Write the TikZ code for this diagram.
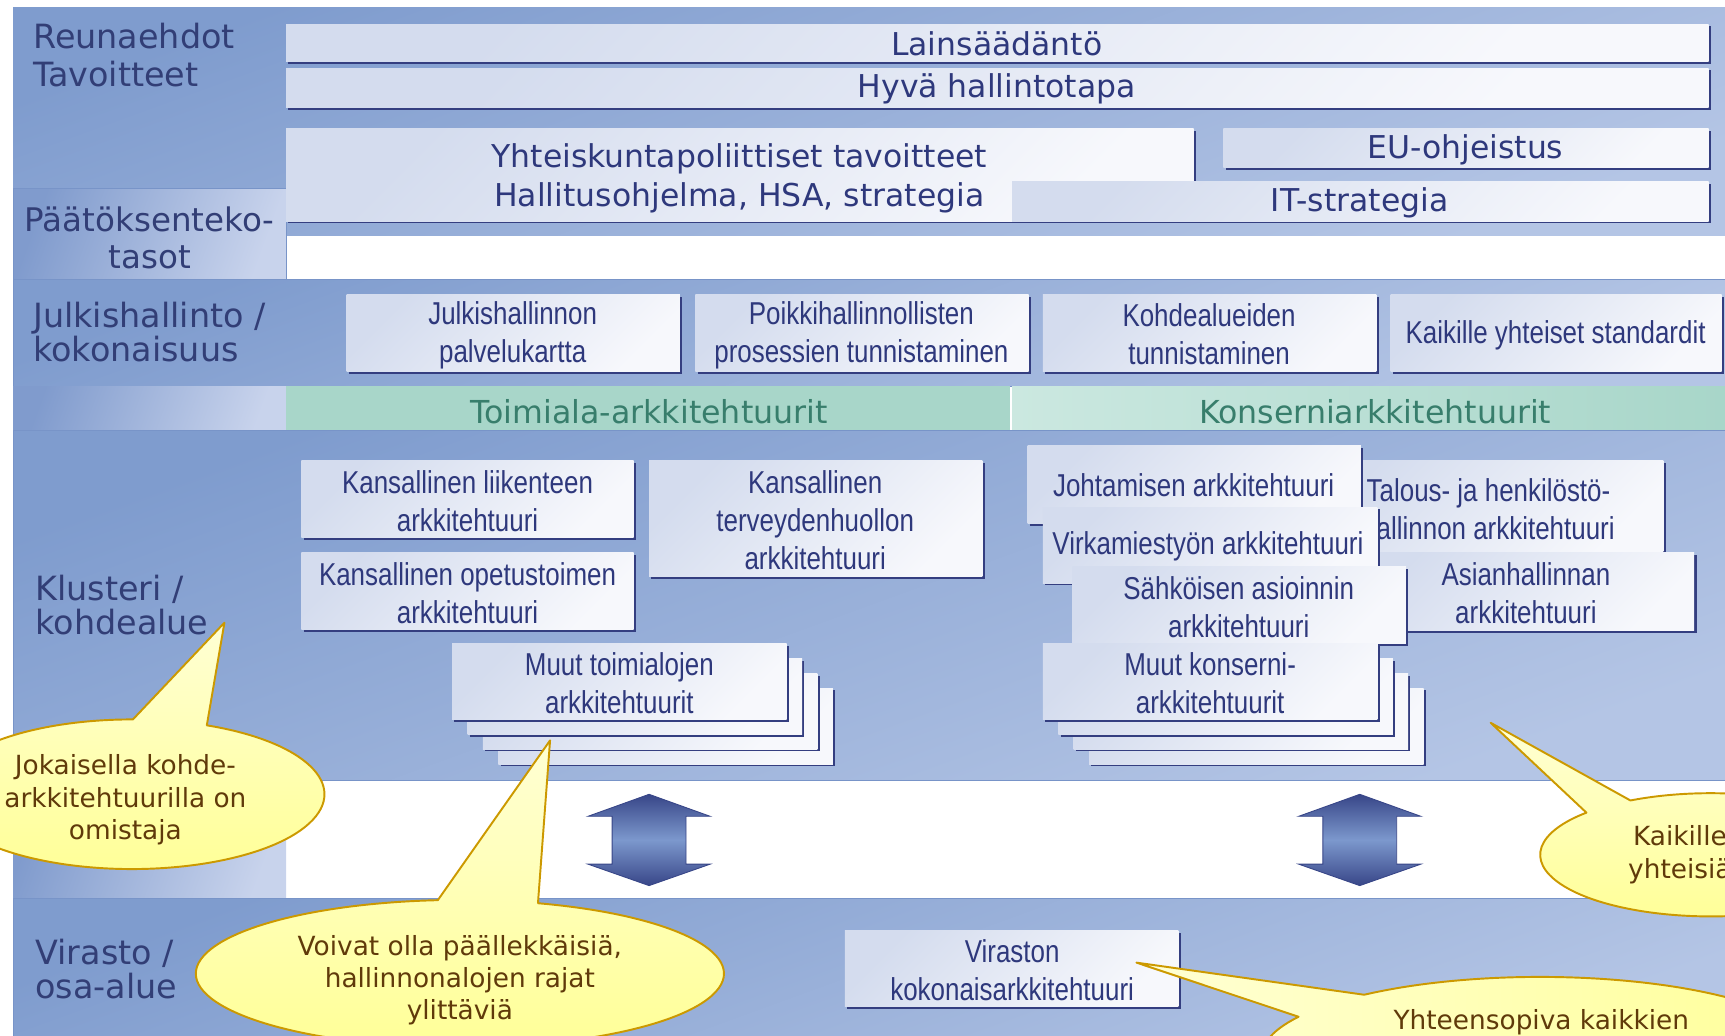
\documentclass[tikz,border=0pt]{standalone}
\usepackage{fontspec}
\setmainfont{DejaVu Sans}
\newfontfamily\narrowfont[FakeStretch=0.82]{Liberation Sans}
\usetikzlibrary{shadows}

\definecolor{banddark}{RGB}{127,156,206}
\definecolor{bandlight}{RGB}{180,197,229}
\definecolor{bandedge}{RGB}{120,148,200}
\definecolor{celldark}{RGB}{128,155,205}
\definecolor{celllight}{RGB}{200,211,236}
\definecolor{boxdark}{RGB}{212,220,238}
\definecolor{boxlight}{RGB}{247,248,252}
\definecolor{boxshadow}{RGB}{52,62,128}
\definecolor{navytext}{RGB}{46,56,124}
\definecolor{labelblue}{RGB}{50,62,118}
\definecolor{greendark}{RGB}{168,214,201}
\definecolor{greenlight}{RGB}{203,232,224}
\definecolor{greentext}{RGB}{56,126,108}
\definecolor{arrowdark}{RGB}{56,70,136}
\definecolor{arrowmid}{RGB}{124,152,205}
\definecolor{callfill}{RGB}{255,255,150}
\definecolor{callpale}{RGB}{255,255,212}
\definecolor{callline}{RGB}{204,153,0}
\definecolor{callbrown}{RGB}{96,58,10}

\tikzset{
  band/.style={top color=banddark, bottom color=bandlight, shading angle=20},
  cell/.style={top color=celldark, bottom color=celllight, shading angle=70},
  archbox/.style={top color=boxdark, bottom color=boxlight, shading angle=45,
    drop shadow={shadow xshift=1.3pt, shadow yshift=-1.3pt, fill=boxshadow, opacity=1}},
  toptxt/.style={font=\fontsize{17.9}{21.8}\selectfont, text=navytext, align=center, inner sep=0pt},
  boxtxt/.style={font=\narrowfont\fontsize{18}{21.6}\selectfont, text=navytext, align=center, inner sep=0pt},
  lbl/.style={font=\fontsize{19}{19.3}\selectfont, text=labelblue, align=left, anchor=west, inner sep=0pt},
  bartxt/.style={font=\fontsize{18}{20}\selectfont, text=greentext, inner sep=0pt},
  blockarrow/.style={top color=arrowdark, bottom color=arrowdark, middle color=arrowmid,
    draw=arrowdark, line width=0.5pt},
  callout/.style={top color=callpale, bottom color=callfill, draw=callline, line width=1.1pt, line join=round},
  calltxt/.style={font=\fontsize{15}{18.4}\selectfont, text=callbrown, align=center, inner sep=0pt}
}

\begin{document}
\begin{tikzpicture}[x=0.22mm, y=-0.22mm]
\useasboundingbox (0,0) rectangle (1568,941);
\clip (0,0) rectangle (1568,941);

% Reunaehdot / Tavoitteet
\path[band] (12,7) rectangle (1568,214);
\path[cell, draw=bandedge, line width=0.5pt] (12,171) rectangle (260,254);
\node[lbl, font=\fontsize{19}{21.8}\selectfont] (reuna) at (30,50) {Reunaehdot\\Tavoitteet};
\node[lbl, anchor=center, align=center, font=\fontsize{18.5}{21.2}\selectfont] (paatos) at (136,216) {Päätöksenteko-\\tasot};
\path[archbox] (260,22) rectangle (1553,56);
\node[toptxt] (laki) at (906,40) {Lainsäädäntö};
\path[archbox] (260,62) rectangle (1553,98);
\node[toptxt] (hyva) at (906,81) {Hyvä hallintotapa};
\path[archbox] (260,117) rectangle (1085,201);
\node[toptxt] (yhteis) at (672,162) {Yhteiskuntapoliittiset tavoitteet\\Hallitusohjelma, HSA, strategia};
\path[archbox] (1112,117) rectangle (1553,152);
\node[toptxt] (eu) at (1332,136) {EU-ohjeistus};
\path[archbox] (920,165) rectangle (1553,201);
\node[toptxt] (it) at (1236,184) {IT-strategia};

% Julkishallinto / kokonaisuus
\path[band, draw=bandedge, line width=0.5pt] (12,254) rectangle (1568,351);
\node[lbl] (julk) at (30,302) {Julkishallinto /\\kokonaisuus};
\path[archbox] (315,268) rectangle (618,338);
\node[boxtxt] (palvelu) at (466,305) {Julkishallinnon\\palvelukartta};
\path[archbox] (632,268) rectangle (935,338);
\node[boxtxt] (poikki) at (783,305) {Poikkihallinnollisten\\prosessien tunnistaminen};
\path[archbox] (948,268) rectangle (1251,338);
\node[boxtxt] (kohde) at (1099,304) {Kohdealueiden\\tunnistaminen};
\path[archbox] (1264,268) rectangle (1565,338);
\node[boxtxt] (standard) at (1414,305) {Kaikille yhteiset standardit};

% Toimiala- ja konserniarkkitehtuurit
\path[cell] (12,351) rectangle (260,391);
\path[left color=greendark, middle color=greenlight, right color=greendark] (260,351) rectangle (918,391);
\path[left color=greenlight, right color=greendark] (920,351) rectangle (1568,391);
\node[bartxt] (toim) at (590,374) {Toimiala-arkkitehtuurit};
\node[bartxt] (kons) at (1250,374) {Konserniarkkitehtuurit};

% Klusteri / kohdealue
\path[band, draw=bandedge, line width=0.5pt] (12,391) rectangle (1568,709);
\path[cell] (12,709) rectangle (260,817);
\node[lbl] (klust) at (32,550) {Klusteri /\\kohdealue};
\path[archbox] (274,419) rectangle (576,489);
\node[boxtxt] (liikenne) at (425,456) {Kansallinen liikenteen\\arkkitehtuuri};
\path[archbox] (274,502) rectangle (576,572);
\node[boxtxt] (opetus) at (425,539) {Kansallinen opetustoimen\\arkkitehtuuri};
\path[archbox] (590,419) rectangle (893,524);
\node[boxtxt] (terveys) at (741,473) {Kansallinen\\terveydenhuollon\\arkkitehtuuri};
\foreach \k in {3,2,1}
  \path[archbox] (411+14*\k,585+13.5*\k) rectangle ++(304,69);
\path[archbox] (411,585) rectangle (715,654);
\node[boxtxt] (muuttoim) at (563,621) {Muut toimialojen\\arkkitehtuurit};

\path[archbox] (1194,419) rectangle (1512,501);
\node[boxtxt] (talous) at (1353,463) {Talous- ja henkilöstö-\\hallinnon arkkitehtuuri};
\path[archbox] (1234,502) rectangle (1540,573);
\node[boxtxt] (asia) at (1387,539) {Asianhallinnan\\arkkitehtuuri};
\path[archbox] (934,405) rectangle (1237,476);
\node[boxtxt] (johto) at (1085,441) {Johtamisen arkkitehtuuri};
\path[archbox] (948,461) rectangle (1252,530);
\node[boxtxt] (virka) at (1098,497) {Virkamiestyön arkkitehtuuri};
\path[archbox] (975,515) rectangle (1278,585);
\node[boxtxt] (sahko) at (1126,552) {Sähköisen asioinnin\\arkkitehtuuri};
\foreach \k in {3,2,1}
  \path[archbox] (948+14*\k,585+13.5*\k) rectangle ++(304,69);
\path[archbox] (948,585) rectangle (1252,654);
\node[boxtxt] (muutkons) at (1100,621) {Muut konserni-\\arkkitehtuurit};

% Nuolet
\foreach \ax in {590,1236} {
  \begin{scope}[shift={(\ax,0)}]
    \path[blockarrow] (0,722) -- (55.5,742) -- (33.6,742) -- (33.6,785.5) -- (55.5,785.5)
      -- (0,805) -- (-55.5,785.5) -- (-33.6,785.5) -- (-33.6,742) -- (-55.5,742) -- cycle;
  \end{scope}
}

% Virasto / osa-alue
\path[band, draw=bandedge, line width=0.5pt] (12,817) rectangle (1568,945);
\node[lbl] (virasto) at (32,881) {Virasto /\\osa-alue};
\path[archbox] (768,846) rectangle (1071,915);
\node[boxtxt] (viraston) at (920,882) {Viraston\\kokonaisarkkitehtuuri};

% Puhekuplat
\coordinate (tipA) at (204,566);
\coordinate (footA) at (188,659.3);
\path[callout] (footA) arc[start angle=-67.1, end angle=270.3, x radius=175, y radius=68] -- (tipA) -- cycle;
\node[calltxt] (omistaja) at (114,727) {Jokaisella kohde-\\arkkitehtuurilla on\\omistaja};

\coordinate (tipB) at (500,673);
\coordinate (footB) at (489,821);
\path[callout] (footB) arc[start angle=-72.8, end angle=265.2, x radius=240, y radius=67] -- (tipB) -- cycle;
\node[calltxt] (paallek) at (418,891) {Voivat olla päällekkäisiä,\\hallinnonalojen rajat\\ylittäviä};

\coordinate (tipC) at (1355,657);
\coordinate (footC) at (1482,727.6);
\path[callout] (footC) arc[start angle=241.9, end angle=583.2, x radius=155, y radius=56] -- (tipC) -- cycle;
\node[calltxt] (kaikille) at (1527,777) {Kaikille\\yhteisiä};

\coordinate (tipD) at (1033,875);
\coordinate (footD) at (1240,904.2);
\path[callout, left color=callpale, right color=callfill] (footD) arc[start angle=230.8, end angle=569.8, x radius=253, y radius=72] -- (tipD) -- cycle;
\node[calltxt] (yhteen) at (1401,929) {Yhteensopiva kaikkien};
\end{tikzpicture}
\end{document}
